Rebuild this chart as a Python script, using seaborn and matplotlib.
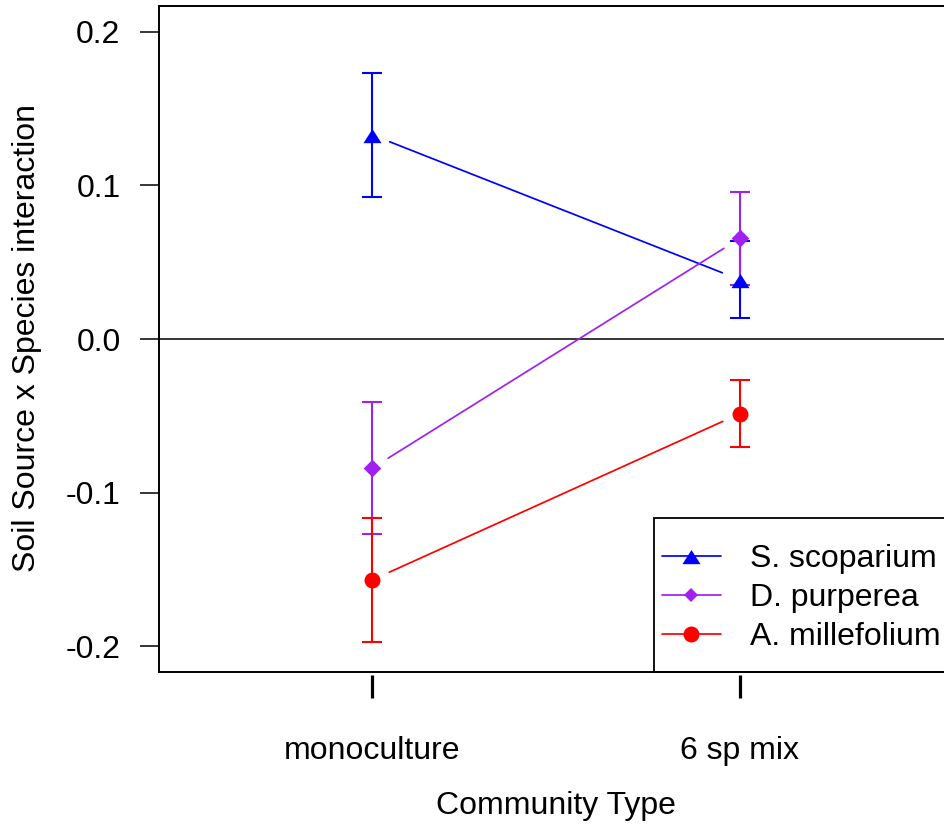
import numpy as np
import pandas as pd
import matplotlib
matplotlib.use("Agg")
import matplotlib.pyplot as plt
import seaborn as sns
from matplotlib.lines import Line2D
from matplotlib.patches import Rectangle

# ---- data -------------------------------------------------------------
community = ["monoculture", "6 sp mix"]
species = ["S. scoparium", "D. purperea", "A. millefolium"]

scoparium_mean = [0.133, 0.0386]
scoparium_se = [0.0404, 0.0250]
purperea_mean = [-0.0842, 0.0656]
purperea_se = [0.0430, 0.0304]
millefolium_mean = [-0.1570, -0.0486]
millefolium_se = [0.0402, 0.0220]

y_ticks = [-0.2, -0.1, 0.0, 0.1, 0.2]
y_tick_labels = ["-0.2", "-0.1", "0.0", "0.1", "0.2"]

colors = {"S. scoparium": "#0000FF", "D. purperea": "#A020F0", "A. millefolium": "#FF0000"}
tri = [(-1, -0.85), (1, -0.85), (0, 0.72)]
markers = {"S. scoparium": tri, "D. purperea": "D", "A. millefolium": "o"}
msizes = {"S. scoparium": 13.0, "D. purperea": 9.0, "A. millefolium": 11.5}

xpos = np.arange(1, len(community) + 1)
rows = []
for sp, m, se in [(species[0], scoparium_mean, scoparium_se),
                  (species[1], purperea_mean, purperea_se),
                  (species[2], millefolium_mean, millefolium_se)]:
    for xi, mi, si in zip(xpos, m, se):
        rows.append({"species": sp, "x": xi, "mean": mi, "se": si})
df = pd.DataFrame(rows)

# ---- figure -----------------------------------------------------------
sns.set_style("white")
plt.rcParams["font.family"] = ["Liberation Sans", "DejaVu Sans"]
plt.rcParams["text.color"] = "black"
plt.rcParams["axes.labelcolor"] = "black"
FS = 23

fig = plt.figure(figsize=(9.45, 8.26), dpi=100)
ax = fig.add_axes([158.6 / 945, 1 - 672 / 826, 794.8 / 945, 666 / 826])
ax.set_xlim(0.42, 2.58)
ax.set_ylim(-0.2169, 0.2169)

ax.axhline(0, color="black", lw=1.1, zorder=1)


def gapped_line(xs, ys, gap_px, **kw):
    """Connect consecutive points, leaving a gap around each point."""
    pts = ax.transData.transform(np.column_stack([xs, ys]))
    inv = ax.transData.inverted()
    for a, b in zip(pts[:-1], pts[1:]):
        d = b - a
        u = d / np.hypot(*d)
        seg = inv.transform(np.array([a + u * gap_px, b - u * gap_px]))
        ax.plot(seg[:, 0], seg[:, 1], **kw)


for sp in species:
    sub = df[df["species"] == sp]
    c = colors[sp]
    gapped_line(sub["x"].values, sub["mean"].values, 19, color=c, lw=1.25, zorder=2)
    ax.errorbar(sub["x"], sub["mean"], yerr=sub["se"], fmt="none", ecolor=c,
                elinewidth=1.5, capsize=7.5, capthick=1.5, zorder=3)
    sns.scatterplot(data=sub, x="x", y="mean", ax=ax, color=c, marker=markers[sp],
                    s=msizes[sp] ** 2, linewidth=0, legend=False, zorder=4)

ax.set_xlim(0.42, 2.58)
ax.set_ylim(-0.2169, 0.2169)
ax.set_xlabel("")
ax.set_ylabel("")

# axes frame
for side in ["left", "bottom", "top"]:
    ax.spines[side].set_color("black")
    ax.spines[side].set_linewidth(1.4)
ax.spines["right"].set_visible(False)

ax.set_yticks(y_ticks)
ax.set_yticklabels(y_tick_labels)
ax.tick_params(axis="y", left=True, direction="out", length=13.7, width=1.1,
               pad=13.7, labelsize=FS, colors="black")

ax.set_xticks(xpos)
ax.set_xticklabels(community)
ax.tick_params(axis="x", bottom=False, length=0, pad=46, labelsize=FS, colors="black")
xt = ax.get_xaxis_transform()
for xi in xpos:
    ax.plot([xi, xi], [-3 / 666, -26 / 666], transform=xt, color="black",
            lw=2.3, clip_on=False, solid_capstyle="butt")

fig.text(27 / 945, 1 - 338 / 826, "Soil Source x Species interaction",
         rotation=90, ha="center", va="center", fontsize=FS, color="black")
fig.text(556 / 945, 1 - 806 / 826, "Community Type", ha="center", va="center",
         fontsize=FS, color="black")

# legend box in the lower-right corner of the plot region
lx0, ltop = 0.6233, 0.2312
ax.add_patch(Rectangle((lx0, 0), 1 - lx0, ltop, transform=ax.transAxes,
                       fill=False, ec="black", lw=1.3, clip_on=False, zorder=6))
entry_y = [0.1742, 0.1156, 0.0571]
leg_ms = {"S. scoparium": 13.0, "D. purperea": 7.0, "A. millefolium": 11.5}
for sp, ey in zip(species, entry_y):
    c = colors[sp]
    ax.add_line(Line2D([0.6334, 0.7076], [ey, ey], transform=ax.transAxes,
                       color=c, lw=1.25, zorder=7))
    ax.add_line(Line2D([0.670], [ey], transform=ax.transAxes, color=c, lw=0,
                       marker=markers[sp], markersize=leg_ms[sp], markeredgewidth=0,
                       zorder=8))
    ax.text(0.7443, ey - 0.004, sp, transform=ax.transAxes, ha="left", va="center",
            fontsize=FS, color="black", zorder=8)

fig.savefig("out.png", dpi=100)
